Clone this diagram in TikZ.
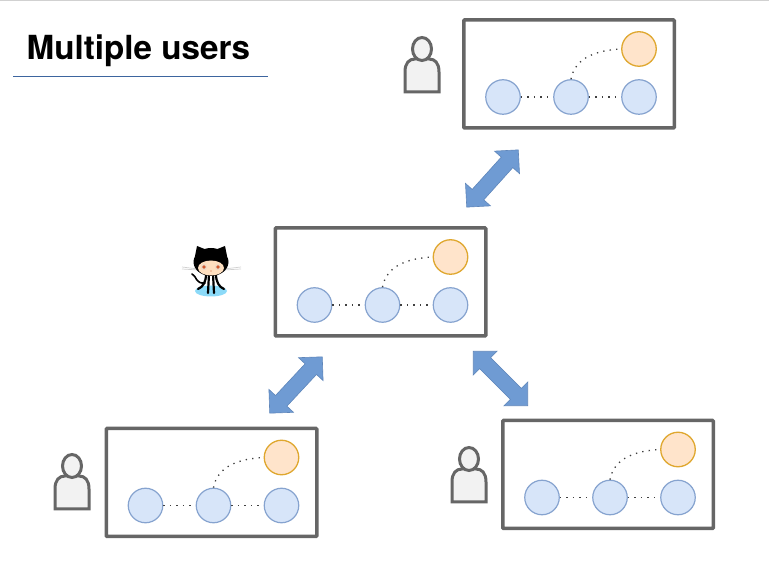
\documentclass[tikz,border=0pt]{standalone}
\usepackage{fontspec}
\setmainfont{TeX Gyre Heros}
\usetikzlibrary{shapes.arrows}
\definecolor{framegray}{HTML}{666666}
\definecolor{commitblue}{HTML}{D7E5F9}
\definecolor{commitedge}{HTML}{86A3CF}
\definecolor{branchorange}{HTML}{FFE4CB}
\definecolor{branchedge}{HTML}{DFA72E}
\definecolor{syncblue}{HTML}{6F9BD3}
\definecolor{syncedge}{HTML}{5F86BA}
\definecolor{rulecolor}{HTML}{3D659F}
\tikzset{
  panel/.style = {draw = framegray, line width = 3.5pt, fill = white, rounded corners = 0.8pt,
    minimum width = 210.5pt, minimum height = 108pt, inner sep = 0},
  commit/.style = {circle, draw = commitedge, line width = 1.2pt, fill = commitblue, minimum size = 34.5pt, inner sep = 0},
  branchtip/.style = {circle, draw = branchedge, line width = 1.3pt, fill = branchorange, minimum size = 34.5pt, inner sep = 0},
  history/.style = {draw = black!75, line width = 1.3pt, dash pattern = on 1.3pt off 5.2pt},
  syncarrow/.style = {double arrow, draw = syncedge, line width = 0.6pt, fill = syncblue, inner xsep = 0, inner ysep = 7.5pt,
    minimum height = 77pt, minimum width = 33pt, double arrow head extend = 9pt, double arrow tip angle = 90},
  usericon/.pic = {
    \draw[framegray, line width = 3pt, fill = black!5] (-17, -43) -- (-17, -23)
      .. controls (-17, -14) and (-13, -10) .. (-7, -10) -- (7, -10)
      .. controls (13, -10) and (17, -14) .. (17, -23) -- (17, -43) -- cycle;
    \draw[framegray, line width = 3pt, fill = black!5] (0, 0) ellipse [x radius = 9.5, y radius = 11.5];
  }
}
% one repository: frame, three commits, one branch tip
\newcommand{\repogroup}[3]{
  \node[panel] (#1) at (#2, #3) {};
  \node[commit] (#1a) at ([shift = {(-66pt, -23pt)}] #1.center) {};
  \node[commit] (#1b) at ([shift = {(2pt, -23pt)}] #1.center) {};
  \node[commit] (#1c) at ([shift = {(70pt, -23pt)}] #1.center) {};
  \node[branchtip] (#1d) at ([shift = {(70pt, 25pt)}] #1.center) {};
  \draw[history] (#1a) -- (#1b);
  \draw[history] (#1b) -- (#1c);
  \draw[history] (#1b.north) to[out = 80, in = 183] (#1d.west);
}
\begin{document}
\begin{tikzpicture}[x = 1pt, y = 1pt]
\useasboundingbox (0, 0) rectangle (769, 568);
\draw[black!18, line width = 1.6pt] (0, 567.5) -- (769, 567.5);

% title
\node[anchor = base west, inner sep = 0, font = \bfseries\fontsize{33.2}{36}\selectfont] (title) at (26.5, 508) {Multiple users};
\coordinate (ruleleft) at (13, 492);
\coordinate (ruleright) at (268, 492);
\draw[rulecolor, line width = 0.8pt] (ruleleft) -- (ruleright);

% repositories
\repogroup{server}{380.5}{286}
\repogroup{top}{569}{494}
\repogroup{left}{211.5}{85.5}
\repogroup{right}{608}{93.5}

% transfers between them
\node[syncarrow, rotate = 48] (synctop) at (492.5, 389.5) {};
\node[syncarrow, rotate = 47] (syncleft) at (296, 183) {};
\node[syncarrow, rotate = -45] (syncright) at (500.5, 189.5) {};

% users
\pic at (422, 519) {usericon};
\pic at (72, 102) {usericon};
\pic at (469, 109) {usericon};

% octocat
\fill[cyan!45!white] (211, 277) ellipse [x radius = 16, y radius = 5.5];
\draw[black!18, line width = 0.7pt] (182, 301) -- (198, 299);
\draw[black!18, line width = 0.7pt] (182, 299) -- (198, 298);
\draw[black!18, line width = 0.7pt] (224, 299) -- (241, 301);
\draw[black!18, line width = 0.7pt] (224, 298) -- (241, 299);
\draw[black, line width = 1.6pt, line cap = round] (192, 294) .. controls (197, 292) and (195, 284) .. (205, 285);
\draw[black, line width = 2.2pt, line cap = round] (206, 294) .. controls (206, 286) and (203, 281) .. (198, 279);
\draw[black, line width = 2.2pt, line cap = round] (209, 294) -- (208, 275);
\draw[black, line width = 2.2pt, line cap = round] (213, 294) -- (214, 275);
\draw[black, line width = 2.2pt, line cap = round] (216, 294) .. controls (216, 286) and (219, 281) .. (224, 279);
\fill[black] (195, 312) -- (197, 322) -- (207, 318) -- (215, 318) -- (225, 322) -- (227, 312) -- cycle;
\fill[black] (211, 306) ellipse [x radius = 17.5, y radius = 14];
\fill[orange!25!white] (211, 300) ellipse [x radius = 13, y radius = 7.5];
\fill[white!70!brown] (204, 301) circle (3);
\fill[white!70!brown] (218, 301) circle (3);
\fill[brown!70!red] (204, 301) circle (1.8);
\fill[brown!70!red] (218, 301) circle (1.8);
\fill[brown!70!red] (211, 297) circle (0.7);
\end{tikzpicture}
\end{document}
